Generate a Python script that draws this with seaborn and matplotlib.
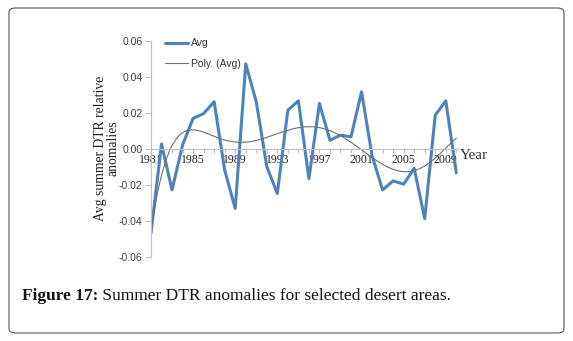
import matplotlib
matplotlib.use("Agg")
import matplotlib.pyplot as plt
from matplotlib.patches import FancyBboxPatch
import seaborn as sns
import numpy as np
import pandas as pd

years = list(range(1981, 2011))
avg = [-0.047, 0.0025, -0.023, 0.002, 0.0167, 0.0194, 0.026, -0.012, -0.0333, 0.047,
       0.026, -0.010, -0.025, 0.0213, 0.0265, -0.0167, 0.025, 0.0046, 0.0074, 0.0065,
       0.0315, -0.004, -0.023, -0.018, -0.0198, -0.011, -0.039, 0.0185, 0.0265, -0.0135]
xtick_years = [1981, 1985, 1989, 1993, 1997, 2001, 2005, 2009]
yticks = [-0.06, -0.04, -0.02, 0.00, 0.02, 0.04, 0.06]
ylabel = "Avg summer DTR relative\nanomalies"
series_label = "Avg"
trend_label = "Poly. (Avg)"
caption_bold = "Figure 17:"
caption_rest = " Summer DTR anomalies for selected desert areas."

# category positions (as in a spreadsheet line chart: 1..N)
df = pd.DataFrame({"Year": years, "Avg": avg})
df["pos"] = np.arange(1, len(years) + 1)
pos_of = dict(zip(years, df["pos"]))

sns.set_theme(style="white")
plt.rcParams["font.family"] = ["Liberation Sans", "DejaVu Sans"]

fig = plt.figure(figsize=(5.73, 3.41), dpi=100)
ax = fig.add_axes([0.2635, 0.2478, 0.8 - 0.2635, 0.8812 - 0.2478])

sns.lineplot(data=df, x="pos", y="Avg", ax=ax, color="#4F81BD", linewidth=2.2,
             label=series_label)
sns.regplot(data=df, x="pos", y="Avg", ax=ax, order=6, scatter=False, ci=None,
            truncate=True, label=trend_label, line_kws=dict(color="#707070", linewidth=0.8))

# spines first (repositioning a spine resets its ticks)
for s in ["top", "right"]:
    ax.spines[s].set_visible(False)
ax.spines["left"].set_color("#BFBFBF")
ax.spines["left"].set_linewidth(0.8)
ax.spines["bottom"].set_position(("data", 0))
ax.spines["bottom"].set_color("#BFBFBF")
ax.spines["bottom"].set_linewidth(0.8)

ax.set_xlim(1, len(years) + 0.2)
ax.set_ylim(-0.06, 0.06)
ax.set_yticks(yticks)
ax.set_yticklabels([f"{v:.2f}" for v in yticks])
ax.set_xticks(df["pos"], minor=True)
ax.set_xticks([pos_of[y] for y in xtick_years])
ax.set_xticklabels([str(y) for y in xtick_years])
ax.xaxis.set_ticks_position("bottom")
ax.yaxis.set_ticks_position("left")
ax.tick_params(axis="x", which="both", direction="out", length=3, width=0.8,
               color="#BFBFBF", pad=1, labelsize=8.5, labelcolor="#222222",
               labelfontfamily="Liberation Serif")
ax.tick_params(axis="y", direction="out", length=4, width=0.8, color="#BFBFBF", pad=2,
               labelsize=7.5, labelcolor="#404040")

ax.set_xlabel("")
ax.set_ylabel(ylabel, family="Liberation Serif", fontsize=9.8, color="#222222",
              linespacing=1.0)
ax.yaxis.set_label_coords(-0.101, 0.5)
ax.text(1.005, 0.5, "Year", transform=ax.transAxes, family="Liberation Serif",
        fontsize=11, color="#333333", ha="left", va="top")

leg = ax.legend(loc="upper left", bbox_to_anchor=(0.033, 1.03), frameon=False,
                fontsize=7.5, handlelength=2.2, labelspacing=1.05, handletextpad=0.3,
                borderaxespad=0)
for t in leg.get_texts():
    t.set_color("#333333")

ax.patch.set_alpha(0)

box = FancyBboxPatch((9 / 573, 8 / 341), (564 - 9) / 573, (333 - 8) / 341,
                     boxstyle="round,pad=0,rounding_size=0.012", transform=fig.transFigure,
                     fill=False, edgecolor="#555555", linewidth=0.8)
fig.patches.append(box)

t1 = fig.text(22 / 573, 1 - 296 / 341, caption_bold, family="Liberation Serif",
              fontweight="bold", fontsize=12.5, va="center", ha="left", color="#111111")
fig.canvas.draw()
r = fig.canvas.get_renderer()
bb = t1.get_window_extent(renderer=r)
fig.text(bb.x1 / fig.bbox.width, 1 - 296 / 341, caption_rest, family="Liberation Serif",
         fontsize=12.5, va="center", ha="left", color="#111111")

fig.savefig("out.png", dpi=100)
